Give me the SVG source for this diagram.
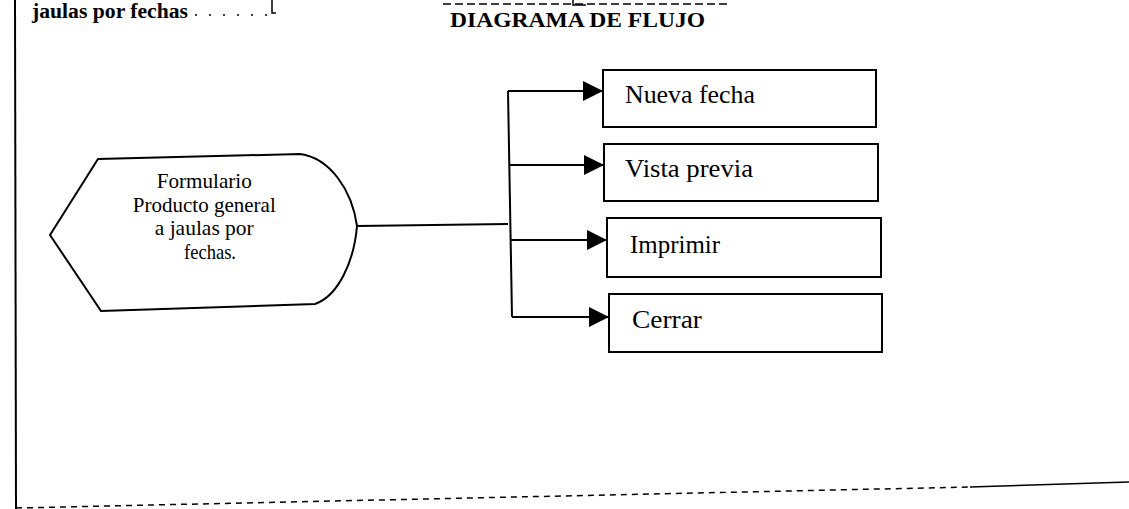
<svg xmlns="http://www.w3.org/2000/svg" width="1129" height="509" viewBox="0 0 1129 509">
<style>
.t{font-family:"Liberation Serif","Times New Roman",serif;fill:#000}
.b{font-weight:bold}
.shape{fill:#fff;stroke:#000;stroke-width:2}
.ln{fill:none;stroke:#000;stroke-width:2}
.faint{fill:none;stroke:#000;stroke-width:1.5}
</style>
<defs>
<marker id="ah" markerUnits="userSpaceOnUse" markerWidth="20" markerHeight="20" refX="20" refY="10" orient="auto">
<path d="M0,0 L20,10 L0,20 Z" fill="#000"/>
</marker>
</defs>
<rect width="1129" height="509" fill="#fff"/>
<g id="frame">
<line x1="15" y1="0" x2="16" y2="509" class="ln"/>
<line x1="16" y1="508" x2="970" y2="487" class="faint" stroke-dasharray="6 5"/>
<line x1="970" y1="487" x2="1129" y2="482" class="faint"/>
<line x1="195" y1="15" x2="268" y2="15" class="faint" stroke-dasharray="2 12"/>
<path d="M272,0 L272,13 L276,13" class="faint"/>
<line x1="443" y1="4" x2="730" y2="4" class="faint" stroke-dasharray="8 4"/>
<path d="M573,0 L573,5 L586,5" class="faint"/>
<text x="32" y="18" class="t b" font-size="20" textLength="156" lengthAdjust="spacingAndGlyphs">jaulas por fechas</text>
<text x="450" y="27" class="t b" font-size="22" textLength="255" lengthAdjust="spacingAndGlyphs">DIAGRAMA DE FLUJO</text>
</g>
<g id="connectors">
<line x1="357" y1="226" x2="508" y2="224" class="ln"/>
<line x1="508" y1="91" x2="512" y2="317" class="ln"/>
<line x1="508" y1="91" x2="603" y2="91" class="ln" marker-end="url(#ah)"/>
<line x1="509" y1="165" x2="604" y2="165" class="ln" marker-end="url(#ah)"/>
<line x1="510" y1="240" x2="607" y2="240" class="ln" marker-end="url(#ah)"/>
<line x1="512" y1="317" x2="609" y2="317" class="ln" marker-end="url(#ah)"/>
</g>
<g id="node-formulario">
<path d="M50,235 L98,159 L300,154 C330,158 352,190 357,226 C354,262 338,296 315,304 L101,311 Z" class="shape"/>
<text class="t" font-size="22" text-anchor="middle">
<tspan x="207" y="188" textLength="95" lengthAdjust="spacingAndGlyphs">Formulario</tspan>
<tspan x="207" y="212" textLength="143" lengthAdjust="spacingAndGlyphs">Producto general</tspan>
<tspan x="207" y="235" textLength="99" lengthAdjust="spacingAndGlyphs">a jaulas por</tspan>
<tspan x="210" y="259" textLength="52" lengthAdjust="spacingAndGlyphs">fechas.</tspan>
</text>
</g>
<g id="node-nueva-fecha">
<rect x="603" y="70" width="273" height="57" class="shape"/>
<text x="625" y="103" class="t" font-size="25" textLength="130" lengthAdjust="spacingAndGlyphs">Nueva fecha</text>
</g>
<g id="node-vista-previa">
<rect x="604" y="144" width="274" height="57" class="shape"/>
<text x="625" y="177" class="t" font-size="25" textLength="128" lengthAdjust="spacingAndGlyphs">Vista previa</text>
</g>
<g id="node-imprimir">
<rect x="607" y="218" width="274" height="59" class="shape"/>
<text x="630" y="253" class="t" font-size="25" textLength="90" lengthAdjust="spacingAndGlyphs">Imprimir</text>
</g>
<g id="node-cerrar">
<rect x="609" y="294" width="273" height="58" class="shape"/>
<text x="632" y="328" class="t" font-size="25" textLength="70" lengthAdjust="spacingAndGlyphs">Cerrar</text>
</g>
</svg>
